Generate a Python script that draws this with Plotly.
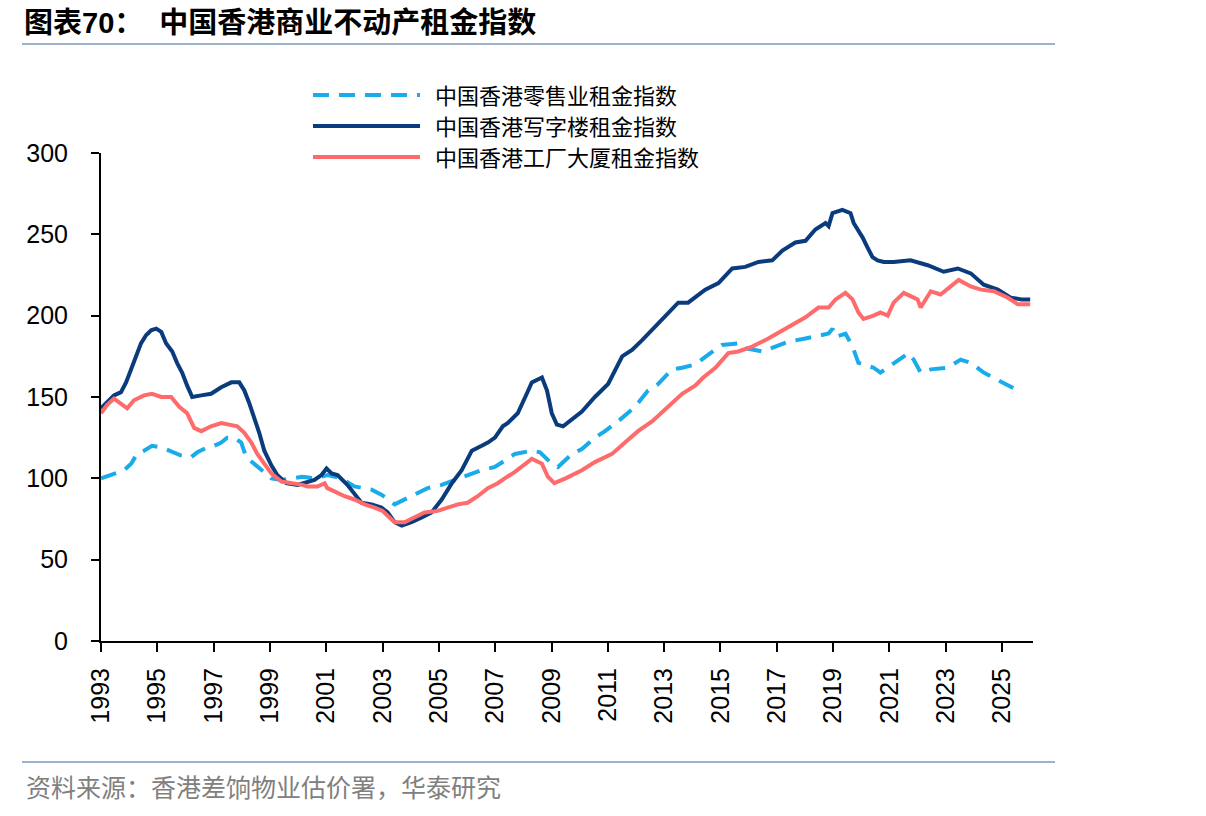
import plotly.graph_objects as go

# ---------------- data ----------------
office_years = [1993.00, 1993.21, 1993.46, 1993.71, 1993.89, 1994.07, 1994.25, 1994.42, 1994.60, 1994.78,
                1994.96, 1995.14, 1995.31, 1995.53, 1995.70, 1995.88, 1996.06, 1996.24, 1996.56, 1996.91,
                1997.27, 1997.63, 1997.91, 1998.09, 1998.27, 1998.44, 1998.62, 1998.80, 1999.05, 1999.26,
                1999.58, 1999.98, 2000.22, 2000.58, 2000.83, 2001.01, 2001.19, 2001.40, 2001.75, 2002.00,
                2002.25, 2002.61, 2002.96, 2003.18, 2003.43, 2003.68, 2004.03, 2004.39, 2004.74, 2005.10,
                2005.46, 2005.81, 2006.17, 2006.52, 2006.74, 2006.99, 2007.27, 2007.45, 2007.80, 2008.12,
                2008.30, 2008.66, 2008.84, 2009.01, 2009.19, 2009.41, 2009.73, 2010.08, 2010.54, 2011.01,
                2011.51, 2011.86, 2012.22, 2012.68, 2013.14, 2013.50, 2013.85, 2014.10, 2014.46, 2014.93,
                2015.42, 2015.88, 2016.35, 2016.84, 2017.20, 2017.66, 2018.02, 2018.37, 2018.73, 2018.84,
                2018.98, 2019.33, 2019.62, 2019.73, 2019.93, 2020.05, 2020.22, 2020.40, 2020.58, 2020.80,
                2021.15, 2021.75, 2022.36, 2022.93, 2023.43, 2023.89, 2024.35, 2024.85, 2025.31, 2025.70,
                2026.00]
office_values = [143, 147, 151, 153, 159, 167, 175, 183, 188, 191,
                 192, 190, 183, 178, 171, 165, 157, 150, 151, 152,
                 156, 159, 159, 154, 146, 138, 128, 117, 108, 102,
                 97, 96, 97, 99, 102, 106, 103, 102, 96, 90,
                 85, 84, 82, 79, 73, 71, 73, 76, 79, 87,
                 97, 105, 117, 120, 122, 125, 132, 134, 140, 152,
                 159, 162, 154, 140, 133, 132, 136, 141, 150, 158,
                 175, 179, 185, 193, 201, 208, 208, 211, 216, 220,
                 229, 230, 233, 234, 240, 245, 246, 253, 257, 255,
                 263, 265, 263, 257, 252, 248, 242, 236, 234, 233,
                 233, 234, 231, 227, 229, 226, 219, 216, 211, 210,
                 210]

industrial_years = [1993.00, 1993.21, 1993.46, 1993.71, 1993.93, 1994.17, 1994.53, 1994.81, 1995.14, 1995.49,
                    1995.78, 1996.06, 1996.31, 1996.56, 1996.91, 1997.27, 1997.63, 1997.84, 1998.09, 1998.34,
                    1998.55, 1998.80, 1999.05, 1999.41, 1999.87, 2000.15, 2000.33, 2000.69, 2000.94, 2001.04,
                    2001.29, 2001.65, 2002.00, 2002.36, 2002.72, 2003.00, 2003.18, 2003.43, 2003.78, 2004.14,
                    2004.49, 2004.96, 2005.31, 2005.67, 2006.02, 2006.38, 2006.74, 2007.09, 2007.34, 2007.70,
                    2008.30, 2008.66, 2008.87, 2009.10, 2009.50, 2010.08, 2010.54, 2011.15, 2011.61, 2012.07,
                    2012.57, 2013.14, 2013.64, 2014.10, 2014.39, 2014.82, 2015.28, 2015.63, 2016.13, 2016.70,
                    2017.20, 2017.56, 2018.02, 2018.48, 2018.84, 2019.09, 2019.44, 2019.69, 2019.90, 2020.08,
                    2020.44, 2020.68, 2020.94, 2021.15, 2021.51, 2021.75, 2022.00, 2022.11, 2022.47, 2022.82,
                    2023.18, 2023.46, 2023.89, 2024.25, 2024.71, 2025.21, 2025.56, 2026.00]
industrial_values = [140, 145, 149, 146, 143, 148, 151, 152, 150, 150,
                     144, 140, 131, 129, 132, 134, 133, 132, 128, 122,
                     115, 109, 103, 98, 97, 96, 95, 95, 97, 94,
                     92, 89, 87, 84, 82, 80, 77, 73, 73, 76,
                     79, 80, 82, 84, 85, 89, 94, 97, 100, 104,
                     112, 109, 101, 97, 100, 105, 110, 115, 122, 129,
                     135, 144, 152, 157, 162, 168, 177, 178, 181, 186,
                     191, 195, 199, 205, 205, 210, 214, 210, 202, 198,
                     200, 202, 200, 208, 214, 212, 210, 205, 215, 213,
                     218, 222, 218, 216, 215, 211, 207, 207]

retail_years = [1993.00, 1993.36, 1993.82, 1994.07, 1994.28, 1994.53, 1994.81, 1995.14, 1995.60, 1995.85,
                1996.20, 1996.42, 1996.77, 1997.02, 1997.27, 1997.48, 1997.73, 1997.98, 1998.16, 1998.44,
                1998.69, 1999.05, 1999.41, 1999.87, 2000.15, 2000.60, 2001.04, 2001.54, 2001.90, 2002.00,
                2002.61, 2002.96, 2003.43, 2003.78, 2004.25, 2004.60, 2005.10, 2005.56, 2006.02, 2006.52,
                2006.99, 2007.34, 2007.70, 2008.30, 2008.59, 2009.01, 2009.23, 2009.73, 2010.08, 2010.54,
                2010.90, 2011.36, 2011.97, 2012.43, 2012.79, 2013.28, 2013.64, 2014.10, 2014.39, 2014.57,
                2015.06, 2015.63, 2015.88, 2016.49, 2016.95, 2017.41, 2018.02, 2018.48, 2018.84, 2018.98,
                2019.09, 2019.44, 2019.69, 2019.90, 2020.44, 2020.68, 2020.94, 2021.22, 2021.68, 2021.86,
                2022.11, 2022.47, 2023.07, 2023.53, 2023.89, 2024.35, 2024.67, 2025.21, 2025.56]
retail_values = [100, 102, 105, 109, 115, 117, 120, 119, 116, 114,
                 113, 116, 119, 120, 122, 125, 125, 122, 113, 109,
                 105, 100, 99, 100, 101, 100, 102, 100, 96, 95,
                 93, 90, 84, 87, 91, 94, 96, 99, 102, 105,
                 107, 111, 115, 117, 116, 109, 107, 115, 118, 125,
                 129, 135, 144, 154, 158, 167, 168, 170, 174, 176,
                 182, 183, 180, 178, 181, 184, 186, 188, 189, 192,
                 187, 189, 181, 171, 168, 165, 168, 171, 177, 173,
                 165, 167, 168, 173, 171, 165, 162, 157, 154]

series_names = ["中国香港零售业租金指数", "中国香港写字楼租金指数", "中国香港工厂大厦租金指数"]
y_ticks = [0, 50, 100, 150, 200, 250, 300]
x_ticks = list(range(1993, 2026, 2))

title_text = "图表70：  中国香港商业不动产租金指数"
source_text = "资料来源：香港差饷物业估价署，华泰研究"

# ---------------- styles ----------------
C_RETAIL = "#1AABEA"
C_OFFICE = "#0A3B7C"
C_IND = "#FF6A6A"
RULE = "#9DB3CD"

W, H = 1206, 816
PL, PR, PT, PB = 101, 1033, 153, 641  # plot box in pixels


def px(x):
    return (x - PL) / (PR - PL)


def py(y):
    return (PB - y) / (PB - PT)


fig = go.Figure()
fig.add_trace(go.Scatter(x=retail_years, y=retail_values, mode="lines", name=series_names[0],
                         line=dict(color=C_RETAIL, width=4, dash="16px,10px")))
fig.add_trace(go.Scatter(x=office_years, y=office_values, mode="lines", name=series_names[1],
                         line=dict(color=C_OFFICE, width=4)))
fig.add_trace(go.Scatter(x=industrial_years, y=industrial_values, mode="lines", name=series_names[2],
                         line=dict(color=C_IND, width=4)))

tick_font = dict(family="Arial, Liberation Sans, sans-serif", size=25, color="#000000")
cjk = "Noto Sans CJK SC, sans-serif"

fig.update_layout(
    width=W, height=H,
    margin=dict(l=PL, r=W - PR, t=PT, b=H - PB, pad=0),
    paper_bgcolor="white", plot_bgcolor="white",
    showlegend=False,
    xaxis=dict(range=[1993, 2026.1], tickmode="array", tickvals=x_ticks,
               ticktext=[str(t) for t in x_ticks], tickangle=-90,
               ticks="outside", ticklen=9, tickwidth=2, tickcolor="#000",
               showline=True, linecolor="#000", linewidth=2, showgrid=False, zeroline=False,
               tickfont=tick_font, ticklabelstandoff=6),
    yaxis=dict(range=[0, 300], tickmode="array", tickvals=y_ticks,
               ticks="outside", ticklen=8, tickwidth=2, tickcolor="#000",
               showline=True, linecolor="#000", linewidth=2, showgrid=False, zeroline=False,
               tickfont=tick_font, ticklabelstandoff=18),
)

shapes = []
annotations = []
# title and rules
annotations.append(dict(text="<b>" + title_text + "</b>", x=px(22), y=py(23), xref="paper", yref="paper",
                        xanchor="left", yanchor="middle", showarrow=False,
                        font=dict(family="Liberation Sans, " + cjk, size=29, color="#000")))
shapes.append(dict(type="line", xref="paper", yref="paper", x0=px(22), x1=px(1055), y0=py(44), y1=py(44),
                   line=dict(color=RULE, width=2)))
shapes.append(dict(type="line", xref="paper", yref="paper", x0=px(22), x1=px(1055), y0=py(762), y1=py(762),
                   line=dict(color=RULE, width=2)))
annotations.append(dict(text=source_text, x=px(24), y=py(786), xref="paper", yref="paper",
                        xanchor="left", yanchor="middle", showarrow=False,
                        font=dict(family=cjk, size=25, color="#808080")))

# legend: line samples + labels
legend_rows = [(95, C_RETAIL, "16px,10px"), (126, C_OFFICE, "solid"), (157, C_IND, "solid")]
for (yy, col, dash), name in zip(legend_rows, series_names):
    shapes.append(dict(type="line", xref="paper", yref="paper", x0=px(313), x1=px(420), y0=py(yy), y1=py(yy),
                       line=dict(color=col, width=4, dash=dash)))
    annotations.append(dict(text=name, x=px(434), y=py(yy - 1), xref="paper", yref="paper",
                            xanchor="left", yanchor="middle", showarrow=False, borderpad=0,
                            font=dict(family=cjk, size=22, color="#000")))

fig.update_layout(shapes=shapes, annotations=annotations)
fig.write_html("out.html")
